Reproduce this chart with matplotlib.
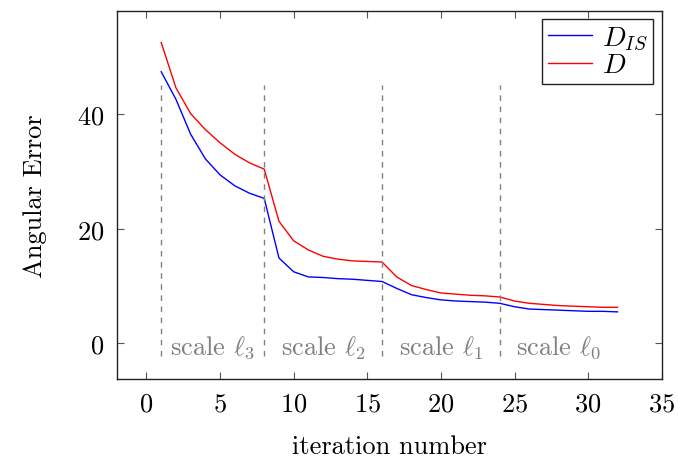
import matplotlib
matplotlib.use("Agg")
import matplotlib.pyplot as plt

plt.rcParams["font.family"] = "serif"
plt.rcParams["font.serif"] = ["cmr10", "DejaVu Serif"]
plt.rcParams["mathtext.fontset"] = "cm"
plt.rcParams["axes.formatter.use_mathtext"] = True

iterations = list(range(1, 33))
err_dis = [47.4, 42.6, 36.5, 32.2, 29.4, 27.5, 26.2, 25.3,
           14.9, 12.5, 11.6, 11.5, 11.3, 11.2, 11.0, 10.8,
           9.6, 8.5, 8.0, 7.6, 7.4, 7.3, 7.2, 7.0,
           6.4, 6.0, 5.9, 5.8, 5.7, 5.6, 5.6, 5.5]
err_d = [52.5, 44.6, 40.1, 37.3, 35.0, 33.0, 31.5, 30.4,
         21.3, 17.9, 16.3, 15.2, 14.7, 14.4, 14.3, 14.2,
         11.6, 10.1, 9.4, 8.8, 8.6, 8.4, 8.3, 8.1,
         7.4, 7.0, 6.8, 6.6, 6.5, 6.4, 6.3, 6.3]
scale_bounds = [1, 8, 16, 24]
scale_labels = [r"scale $\ell_3$", r"scale $\ell_2$", r"scale $\ell_1$", r"scale $\ell_0$"]
scale_centers = [4.5, 12, 20, 28]

fig = plt.figure(figsize=(6.78, 4.60), dpi=100)
ax = fig.add_axes([0.1726, 0.174, 0.8034, 0.8])

ax.plot(iterations, err_dis, color="blue", linewidth=1.0, label=r"$D_{IS}$")
ax.plot(iterations, err_d, color="red", linewidth=1.0, label=r"$D$")

for xb in scale_bounds:
    ax.plot([xb, xb], [-2.2, 45], color="gray", linestyle=(0, (4, 4)), linewidth=1.0)
for xc, lab in zip(scale_centers, scale_labels):
    ax.text(xc, -0.6, lab, color="gray", fontsize=19, ha="center", va="center")

ax.set_xlim(-2, 35)
ax.set_ylim(-6.2, 58)
ax.set_xticks(range(0, 36, 5))
ax.set_yticks([0, 20, 40])
ax.tick_params(direction="in", top=True, right=True, labelsize=19,
               length=5, color="#555555", pad=9)
for sp in ax.spines.values():
    sp.set_linewidth(1.0)
    sp.set_color("#222222")

ax.set_xlabel("iteration number", fontsize=19, labelpad=14)
ax.set_ylabel("Angular Error", fontsize=19, labelpad=22)

leg = ax.legend(loc="upper right", fontsize=20, fancybox=False, framealpha=1,
                edgecolor="#222222", handlelength=1.6, borderpad=0.2,
                labelspacing=0.0, handletextpad=0.35, borderaxespad=0.3)
leg.get_frame().set_linewidth(1.0)

fig.savefig("out.png", dpi=100)
